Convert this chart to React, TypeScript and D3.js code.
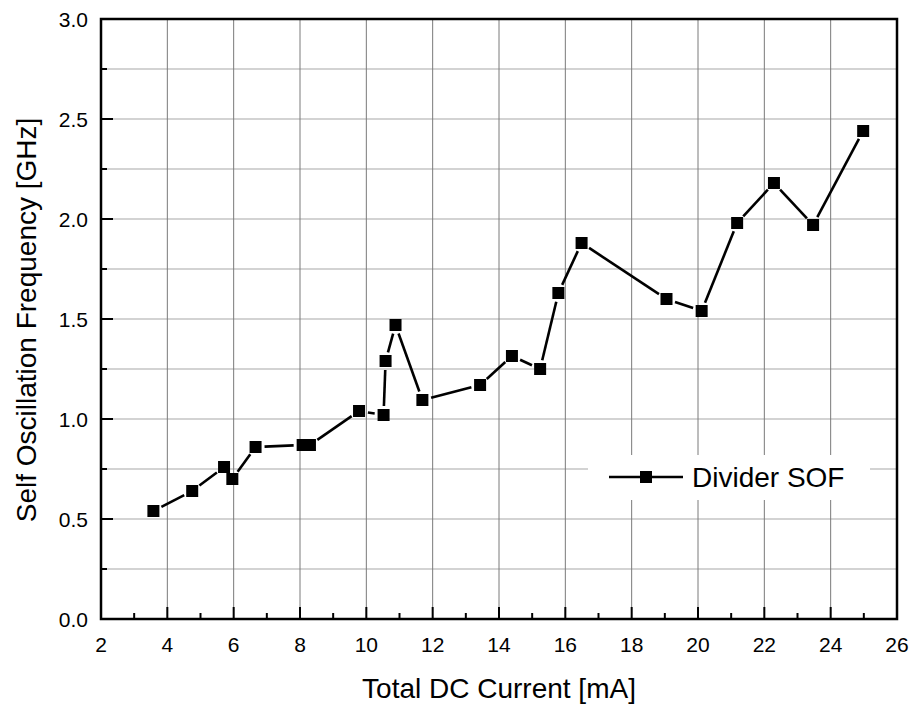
import React from "react";
import * as d3 from "d3";

const currentMA = [3.58, 4.75, 5.71, 5.96, 6.66, 8.08, 8.3, 9.78, 10.52, 10.58, 10.88, 11.69, 13.43, 14.39, 15.24, 15.79, 16.49, 19.05, 20.11, 21.18, 22.29, 23.47, 24.98];
const sofGHz = [0.54, 0.64, 0.76, 0.7, 0.86, 0.87, 0.87, 1.04, 1.02, 1.29, 1.47, 1.095, 1.17, 1.315, 1.25, 1.63, 1.88, 1.6, 1.54, 1.98, 2.18, 1.97, 2.44];
const xMajorTicks = [2, 4, 6, 8, 10, 12, 14, 16, 18, 20, 22, 24, 26];
const xMinorTicks = [3, 5, 7, 9, 11, 13, 15, 17, 19, 21, 23, 25];
const yMajorTicks = [0, 0.5, 1.0, 1.5, 2.0, 2.5, 3.0];
const yMinorTicks = [0.25, 0.75, 1.25, 1.75, 2.25, 2.75];
const seriesName = "Divider SOF";
const xTitle = "Total DC Current [mA]";
const yTitle = "Self Oscillation Frequency [GHz]";

const W = 912, H = 704;
const L = 101, R = 897, T = 19, B = 619;
const FONT = "'Liberation Sans', Arial, Helvetica, sans-serif";

export default function App() {
  const x = d3.scaleLinear().domain([2, 26]).range([L, R]);
  const y = d3.scaleLinear().domain([0, 3]).range([B, T]);
  const pts = currentMA.map((c, i) => [x(c), y(sofGHz[i])] as [number, number]);
  const gap = 9;
  const segs: string[] = [];
  for (let i = 0; i < pts.length - 1; i++) {
    const [x1, y1] = pts[i];
    const [x2, y2] = pts[i + 1];
    const dx = x2 - x1, dy = y2 - y1;
    const len = Math.hypot(dx, dy);
    if (len <= 2 * gap + 1) continue;
    const ux = dx / len, uy = dy / len;
    const line = d3.line();
    const p = line([[x1 + ux * gap, y1 + uy * gap], [x2 - ux * gap, y2 - uy * gap]]);
    if (p) segs.push(p);
  }
  const ms = 12;
  const fmt = d3.format(".1f");
  const legX1 = 609, legX2 = 683, legY = 477;
  return (
    <svg width={W} height={H} style={{ position: "absolute", left: 0, top: 0, background: "#fff" }} fontFamily={FONT}>
      <rect x={0} y={0} width={W} height={H} fill="#fff" />
      {/* horizontal grid */}
      {[...yMajorTicks, ...yMinorTicks].filter(v => v > 0 && v < 3).map(v => (
        <line key={"hg" + v} x1={L} x2={R} y1={y(v)} y2={y(v)} stroke="#a8a8a8" strokeWidth={1.2} />
      ))}
      {/* vertical grid */}
      {xMajorTicks.filter(v => v > 2 && v < 26).map(v => (
        <line key={"vg" + v} x1={x(v)} x2={x(v)} y1={T} y2={B} stroke="#7a7a7a" strokeWidth={1} />
      ))}
      {/* legend background */}
      <rect x={588} y={455} width={282} height={45} fill="#fff" />
      {/* ticks */}
      {xMajorTicks.map(v => (
        <line key={"xt" + v} x1={x(v)} x2={x(v)} y1={B} y2={B - 12} stroke="#000" strokeWidth={2} />
      ))}
      {xMinorTicks.map(v => (
        <line key={"xm" + v} x1={x(v)} x2={x(v)} y1={B} y2={B - 6} stroke="#000" strokeWidth={2} />
      ))}
      {yMajorTicks.map(v => (
        <line key={"yt" + v} x1={L} x2={L + 12} y1={y(v)} y2={y(v)} stroke="#000" strokeWidth={2} />
      ))}
      {yMinorTicks.map(v => (
        <line key={"ym" + v} x1={L} x2={L + 6} y1={y(v)} y2={y(v)} stroke="#000" strokeWidth={2} />
      ))}
      {/* frame */}
      <rect x={L} y={T} width={R - L} height={B - T} fill="none" stroke="#000" strokeWidth={2.5} />
      {/* tick labels */}
      {xMajorTicks.map(v => (
        <text key={"xl" + v} x={x(v)} y={652} textAnchor="middle" fontSize={21} fill="#000">{v}</text>
      ))}
      {yMajorTicks.map(v => (
        <text key={"yl" + v} x={88} y={y(v)} dy="0.36em" textAnchor="end" fontSize={21} fill="#000">{fmt(v)}</text>
      ))}
      {/* titles */}
      <text x={(L + R) / 2} y={698} textAnchor="middle" fontSize={28} fill="#000">{xTitle}</text>
      <text transform={`translate(36, ${(T + B) / 2 + 1}) rotate(-90)`} textAnchor="middle" fontSize={28} fill="#000">{yTitle}</text>
      {/* data */}
      {segs.map((d, i) => (
        <path key={"s" + i} d={d} stroke="#000" strokeWidth={2.6} fill="none" />
      ))}
      {pts.map(([px, py], i) => (
        <rect key={"m" + i} x={px - ms / 2} y={py - ms / 2} width={ms} height={ms} fill="#000" />
      ))}
      {/* legend */}
      <line x1={legX1} x2={legX2} y1={legY} y2={legY} stroke="#000" strokeWidth={2.6} />
      <rect x={(legX1 + legX2) / 2 - ms / 2} y={legY - ms / 2} width={ms} height={ms} fill="#000" />
      <text x={692} y={487} fontSize={28} fill="#000">{seriesName}</text>
    </svg>
  );
}
